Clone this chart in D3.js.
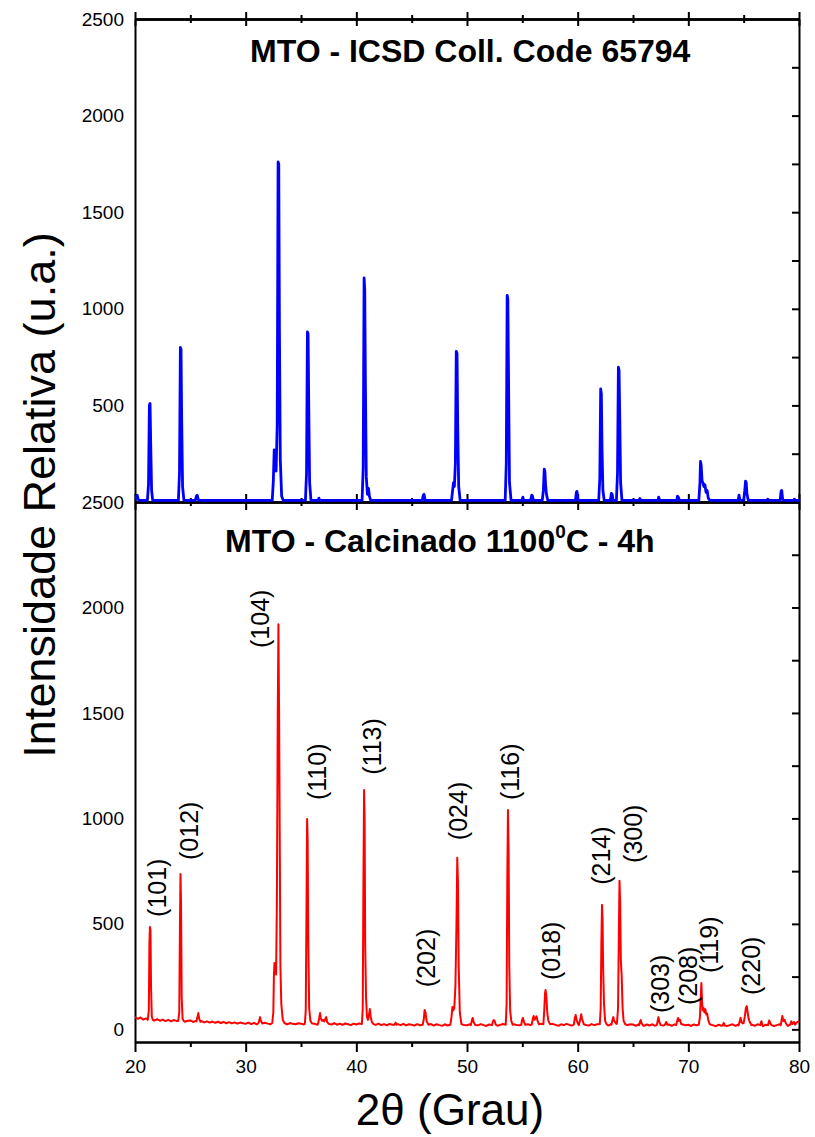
<!DOCTYPE html>
<html>
<head>
<meta charset="utf-8">
<script src="https://cdn.jsdelivr.net/npm/d3@7"></script>
<style>
  body { margin: 0; background: #fff; }
  text { font-family: Arial, "Liberation Sans", sans-serif; fill: #000; }
</style>
</head>
<body>
<div id="chart"></div>
<script>
// Padrao ICSD 65794 (2theta, intensidade)
const icsdPoints = [
  [20.0,8],[20.1,30],[20.2,35],[20.3,12],[20.4,8],
  [21.12,8],[21.22,90],[21.3,500],[21.36,510],[21.42,300],[21.5,60],[21.6,8],
  [23.92,8],[24.02,150],[24.1,800],[24.16,790],[24.22,420],[24.3,80],[24.42,8],
  [25.45,8],[25.55,30],[25.62,35],[25.72,12],[25.85,8],
  [32.4,8],[32.5,110],[32.58,270],[32.66,230],[32.75,160],[32.85,400],[32.93,1760],[32.99,1750],[33.05,900],[33.13,220],[33.25,30],[33.4,8],
  [35.4,8],[35.5,150],[35.58,880],[35.64,870],[35.7,500],[35.78,100],[35.9,8],
  [36.55,8],[36.62,20],[36.7,8],
  [40.52,8],[40.62,180],[40.7,1160],[40.76,1100],[40.82,620],[40.9,130],[41.0,40],[41.1,70],[41.18,30],[41.3,8],
  [45.95,8],[46.05,35],[46.12,40],[46.22,8],
  [48.6,8],[48.7,60],[48.78,100],[48.86,80],[48.95,200],[49.03,780],[49.1,770],[49.16,400],[49.25,80],[49.38,8],
  [53.45,8],[53.55,200],[53.63,1070],[53.69,1050],[53.76,600],[53.84,100],[53.98,8],
  [54.95,8],[55.05,25],[55.12,8],
  [55.75,8],[55.85,35],[55.92,30],[56.0,8],
  [56.8,8],[56.9,60],[56.98,170],[57.04,160],[57.1,90],[57.18,40],[57.3,8],
  [59.8,8],[59.88,50],[59.94,55],[60.02,8],
  [61.9,8],[62.0,120],[62.08,585],[62.14,560],[62.2,280],[62.28,60],[62.4,8],
  [62.95,8],[63.05,45],[63.12,40],[63.2,8],
  [63.5,8],[63.6,150],[63.68,698],[63.74,680],[63.8,450],[63.88,100],[64.0,8],
  [65.55,8],[65.62,18],[65.7,8],
  [67.25,8],[67.32,25],[67.4,8],
  [68.95,8],[69.02,30],[69.1,25],[69.2,8],
  [70.95,8],[71.05,100],[71.1,210],[71.16,190],[71.24,110],[71.32,100],[71.4,80],[71.5,90],[71.6,50],[71.7,60],[71.8,20],[71.95,8],
  [74.5,8],[74.58,35],[74.66,10],[75.0,8],[75.1,60],[75.17,108],[75.23,100],[75.3,40],[75.42,8],
  [77.1,8],[77.18,15],[77.26,8],
  [78.3,8],[78.38,55],[78.44,60],[78.52,15],[78.62,8],
  [79.5,8],[79.58,15],[79.7,8],[80.0,8]
];

// Amostra calcinada : fundo lido a cada 0.25 grau (de 20 a 80)
const sampleBackground = [
  58,50,56,46,52,44,50,42,48,41,46,39,45,38,44,40,37,43,36,41,
  42,35,40,34,39,33,38,32,37,31,36,30,35,29,34,28,33,27,32,29,
  26,32,25,31,24,30,25,31,27,24,30,25,31,24,29,23,30,26,24,29,
  27,23,29,24,30,26,22,29,25,21,28,23,29,22,27,21,28,24,20,27,
  23,28,21,27,23,19,26,21,27,20,25,19,26,22,18,25,20,26,19,24,
  22,18,25,19,24,17,23,25,18,24,20,17,24,18,23,25,19,17,24,20,
  19,24,17,23,19,25,20,16,23,19,24,17,21,25,18,23,17,24,20,19,
  23,17,24,20,25,18,23,26,19,24,18,25,21,17,24,20,26,21,18,24,
  25,19,26,21,18,25,20,24,27,20,25,18,24,19,26,21,18,25,20,24,
  23,17,24,20,16,23,18,24,17,21,25,18,16,23,17,24,20,16,23,19,
  22,16,23,19,24,17,21,16,23,19,15,22,17,23,16,20,24,17,22,16,
  20,23,16,22,17,24,19,15,22,17,23,16,20,24,17,22,16,23,19,30,
  40
];

// Amostra calcinada : picos
const samplePeaks = [
  [[21.15,45],[21.25,90],[21.3,400],[21.35,485],[21.4,470],[21.45,200],[21.52,60],[21.62,44]],
  [[23.9,40],[24.0,80],[24.06,480],[24.11,737],[24.16,600],[24.22,150],[24.3,50],[24.4,40]],
  [[25.55,38],[25.65,60],[25.72,77],[25.8,50],[25.92,36]],
  [[31.15,29],[31.25,45],[31.3,58],[31.38,40],[31.5,28]],
  [[32.4,30],[32.5,80],[32.55,250],[32.6,314],[32.68,300],[32.75,260],[32.82,600],[32.9,1500],[32.96,1920],[33.02,1500],[33.08,900],[33.14,300],[33.22,120],[33.35,45],[33.5,30]],
  [[35.35,28],[35.43,90],[35.5,600],[35.55,997],[35.6,900],[35.66,400],[35.74,100],[35.85,40],[36.0,28]],
  [[36.55,28],[36.65,55],[36.72,77],[36.8,50],[36.9,40],[37.0,45],[37.1,38],[37.2,50],[37.28,58],[37.36,35],[37.5,26]],
  [[40.5,25],[40.58,100],[40.64,700],[40.7,1135],[40.75,1000],[40.8,400],[40.88,150],[40.96,60],[41.05,45],[41.15,70],[41.22,96],[41.3,60],[41.4,35],[41.55,25]],
  [[43.45,22],[43.55,32],[43.65,22]],
  [[46.0,22],[46.1,50],[46.17,92],[46.25,80],[46.35,40],[46.5,22]],
  [[48.5,22],[48.6,60],[48.68,106],[48.76,90],[48.85,100],[48.95,200],[49.05,500],[49.12,813],[49.18,700],[49.25,300],[49.35,80],[49.48,30]],
  [[50.35,20],[50.45,45],[50.52,54],[50.6,35],[50.75,20]],
  [[52.25,20],[52.35,38],[52.42,44],[52.5,40],[52.6,22]],
  [[53.5,22],[53.58,120],[53.64,700],[53.7,1040],[53.76,850],[53.82,300],[53.9,90],[54.0,40],[54.12,22]],
  [[54.9,22],[54.98,45],[55.05,54],[55.12,40],[55.25,22]],
  [[55.85,23],[55.95,50],[56.02,63],[56.1,45],[56.2,55],[56.28,62],[56.38,40],[56.5,24]],
  [[56.9,24],[56.98,90],[57.05,170],[57.1,187],[57.18,150],[57.25,80],[57.35,40],[57.5,25]],
  [[59.65,22],[59.75,55],[59.82,68],[59.9,45],[60.0,30],[60.1,20],[60.25,50],[60.32,72],[60.4,50],[60.55,24]],
  [[62.0,25],[62.08,100],[62.14,400],[62.2,590],[62.25,520],[62.3,300],[62.38,120],[62.48,40],[62.6,25]],
  [[63.05,22],[63.15,45],[63.22,58],[63.3,40]],
  [[63.55,30],[63.65,100],[63.72,450],[63.78,705],[63.84,600],[63.9,330],[63.98,250],[64.06,100],[64.15,40],[64.3,24]],
  [[65.55,20],[65.65,38],[65.7,44],[65.78,28],[65.9,20]],
  [[67.15,20],[67.25,45],[67.3,58],[67.38,35],[67.5,20]],
  [[67.9,22],[68.0,35],[68.1,22]],
  [[68.9,20],[69.0,42],[69.08,54],[69.15,40],[69.25,45],[69.35,25]],
  [[70.95,22],[71.05,60],[71.12,150],[71.18,220],[71.24,130],[71.3,90],[71.38,101],[71.46,80],[71.54,95],[71.62,70],[71.7,75],[71.8,45],[71.92,25]],
  [[73.1,18],[73.2,30],[73.3,18]],
  [[74.55,19],[74.65,40],[74.72,55],[74.8,35]],
  [[74.9,28],[75.0,30],[75.1,60],[75.2,100],[75.28,110],[75.36,80],[75.45,50],[75.55,35],[75.7,20]],
  [[76.5,20],[76.6,38],[76.7,20]],
  [[77.2,19],[77.3,42],[77.4,30],[77.5,20]],
  [[78.35,20],[78.45,50],[78.5,63],[78.58,40],[78.7,45],[78.8,30],[78.9,22]],
  [[79.2,22],[79.3,38],[79.4,25],[79.55,35],[79.65,22]]
];

// Indices de Miller (rotulo, 2theta do centro, intensidade na base do texto)
const hklLabels  = ["(101)","(012)","(104)","(110)","(113)","(202)","(024)","(116)","(018)","(214)","(300)","(303)","(208)","(119)","(220)"];
const hklTheta   = [22.0, 24.9, 31.3, 36.45, 41.42, 46.3, 49.2, 53.9, 57.6, 62.1, 65.0, 67.5, 70.0, 71.9, 75.7];
const hklAt      = [533, 803, 1808, 1087, 1207, 200, 897, 1087, 234, 685, 789, 77, 115, 267, 163];

const xTicks = [20, 30, 40, 50, 60, 70, 80];
const xMinor = [25, 35, 45, 55, 65, 75];
const topLabels = [500, 1000, 1500, 2000, 2500];
const botLabels = [0, 500, 1000, 1500, 2000, 2500];
const yRightTicks = [0, 250, 500, 750, 1000, 1250, 1500, 1750, 2000, 2250];

const W = 815, H = 1137;
const svg = d3.select("#chart").append("svg")
    .attr("width", W).attr("height", H);

const x = d3.scaleLinear().domain([20, 80]).range([135, 799]);
const yTop = d3.scaleLinear().domain([0, 2500]).range([502, 19]);
const yBot = d3.scaleLinear().domain([-60, 2500]).range([1042, 502]);

// clips
const defs = svg.append("defs");
defs.append("clipPath").attr("id", "clipTop").append("rect")
    .attr("x", 135).attr("y", 19).attr("width", 664).attr("height", 484);
defs.append("clipPath").attr("id", "clipBot").append("rect")
    .attr("x", 135).attr("y", 502).attr("width", 664).attr("height", 540);

// serie da amostra : fundo + picos
const peakRanges = samplePeaks.map(p => [p[0][0], p[p.length - 1][0]]);
const bg = sampleBackground.map((v, i) => [20 + i * 0.25, v])
    .filter(d => !peakRanges.some(r => d[0] >= r[0] && d[0] <= r[1]));
const sampleData = bg.concat(samplePeaks.flat()).sort((a, b) => a[0] - b[0]);

function styleAxis(g) {
  g.select(".domain").attr("stroke", "#000").attr("stroke-width", 2);
  g.selectAll(".tick line").attr("stroke", "#000").attr("stroke-width", 2);
  g.selectAll(".tick text").style("font-size", "19px")
      .style("font-family", "Arial, 'Liberation Sans', sans-serif");
}

// ---- eixos horizontais
function hAxis(axisFn, y, values, size, labels) {
  const a = axisFn(x).tickValues(values).tickSize(size).tickSizeOuter(0);
  if (!labels) a.tickFormat("");
  else a.tickPadding(8);
  svg.append("g").attr("transform", `translate(0,${y})`).call(a).call(styleAxis);
}
// topo do painel superior : marcas cruzadas
hAxis(d3.axisTop, 19, xTicks, 7);
hAxis(d3.axisTop, 19, xTicks, -7);
hAxis(d3.axisTop, 19, xMinor, 4);
hAxis(d3.axisTop, 19, xMinor, -4);
// linha do meio
hAxis(d3.axisBottom, 502, xTicks, 8);
hAxis(d3.axisBottom, 502, xTicks, -8);
hAxis(d3.axisBottom, 502, xMinor, 4);
hAxis(d3.axisBottom, 502, xMinor, -4);
// base
hAxis(d3.axisBottom, 1042, xMinor, 5);
hAxis(d3.axisBottom, 1042, xTicks, 10, true);

// ---- eixos verticais
svg.append("g").attr("transform", "translate(135,0)")
    .call(d3.axisLeft(yTop).tickValues(topLabels).tickSize(0).tickPadding(11).tickFormat(d3.format("d")))
    .call(styleAxis);
svg.append("g").attr("transform", "translate(135,0)")
    .call(d3.axisLeft(yBot).tickValues(botLabels).tickSize(0).tickPadding(11).tickFormat(d3.format("d")))
    .call(styleAxis);
svg.append("g").attr("transform", "translate(799,0)")
    .call(d3.axisRight(yTop).tickValues(yRightTicks).tickSize(-7).tickFormat("").tickSizeOuter(0))
    .call(styleAxis);
svg.append("g").attr("transform", "translate(799,0)")
    .call(d3.axisRight(yBot).tickValues(yRightTicks).tickSize(-7).tickFormat("").tickSizeOuter(0))
    .call(styleAxis);

// ---- curvas
svg.append("path").datum(icsdPoints)
    .attr("clip-path", "url(#clipTop)")
    .attr("fill", "none").attr("stroke", "#0000ff").attr("stroke-width", 2.8)
    .attr("stroke-linejoin", "round")
    .attr("d", d3.line().x(d => x(d[0])).y(d => yTop(d[1])));

svg.append("path").datum(sampleData)
    .attr("clip-path", "url(#clipBot)")
    .attr("fill", "none").attr("stroke", "#ff0000").attr("stroke-width", 2)
    .attr("stroke-linejoin", "round")
    .attr("d", d3.line().x(d => x(d[0])).y(d => yBot(d[1])));

// ---- rotulos hkl
svg.append("g").selectAll("text")
    .data(hklLabels)
    .join("text")
    .attr("transform", (d, i) => `translate(${x(hklTheta[i])},${yBot(hklAt[i])}) rotate(-90)`)
    .attr("dy", "0.35em")
    .style("font-size", "25px")
    .text(d => d);

// ---- titulos
svg.append("text").attr("x", 250).attr("y", 62)
    .style("font-size", "32px").style("font-weight", "bold")
    .text("MTO - ICSD Coll. Code 65794");

const t2 = svg.append("text").attr("x", 225).attr("y", 552)
    .style("font-size", "32px").style("font-weight", "bold");
t2.append("tspan").text("MTO - Calcinado 1100");
t2.append("tspan").attr("dy", -14).style("font-size", "19px").text("0");
t2.append("tspan").attr("dy", 14).text("C - 4h");

// ---- titulos dos eixos
svg.append("text")
    .attr("x", 450).attr("y", 1125)
    .attr("text-anchor", "middle")
    .style("font-size", "44px")
    .text("2\u03B8 (Grau)");

svg.append("text")
    .attr("transform", "translate(55,495) rotate(-90)")
    .attr("text-anchor", "middle")
    .style("font-size", "45px")
    .text("Intensidade Relativa (u.a.)");
</script>
</body>
</html>
